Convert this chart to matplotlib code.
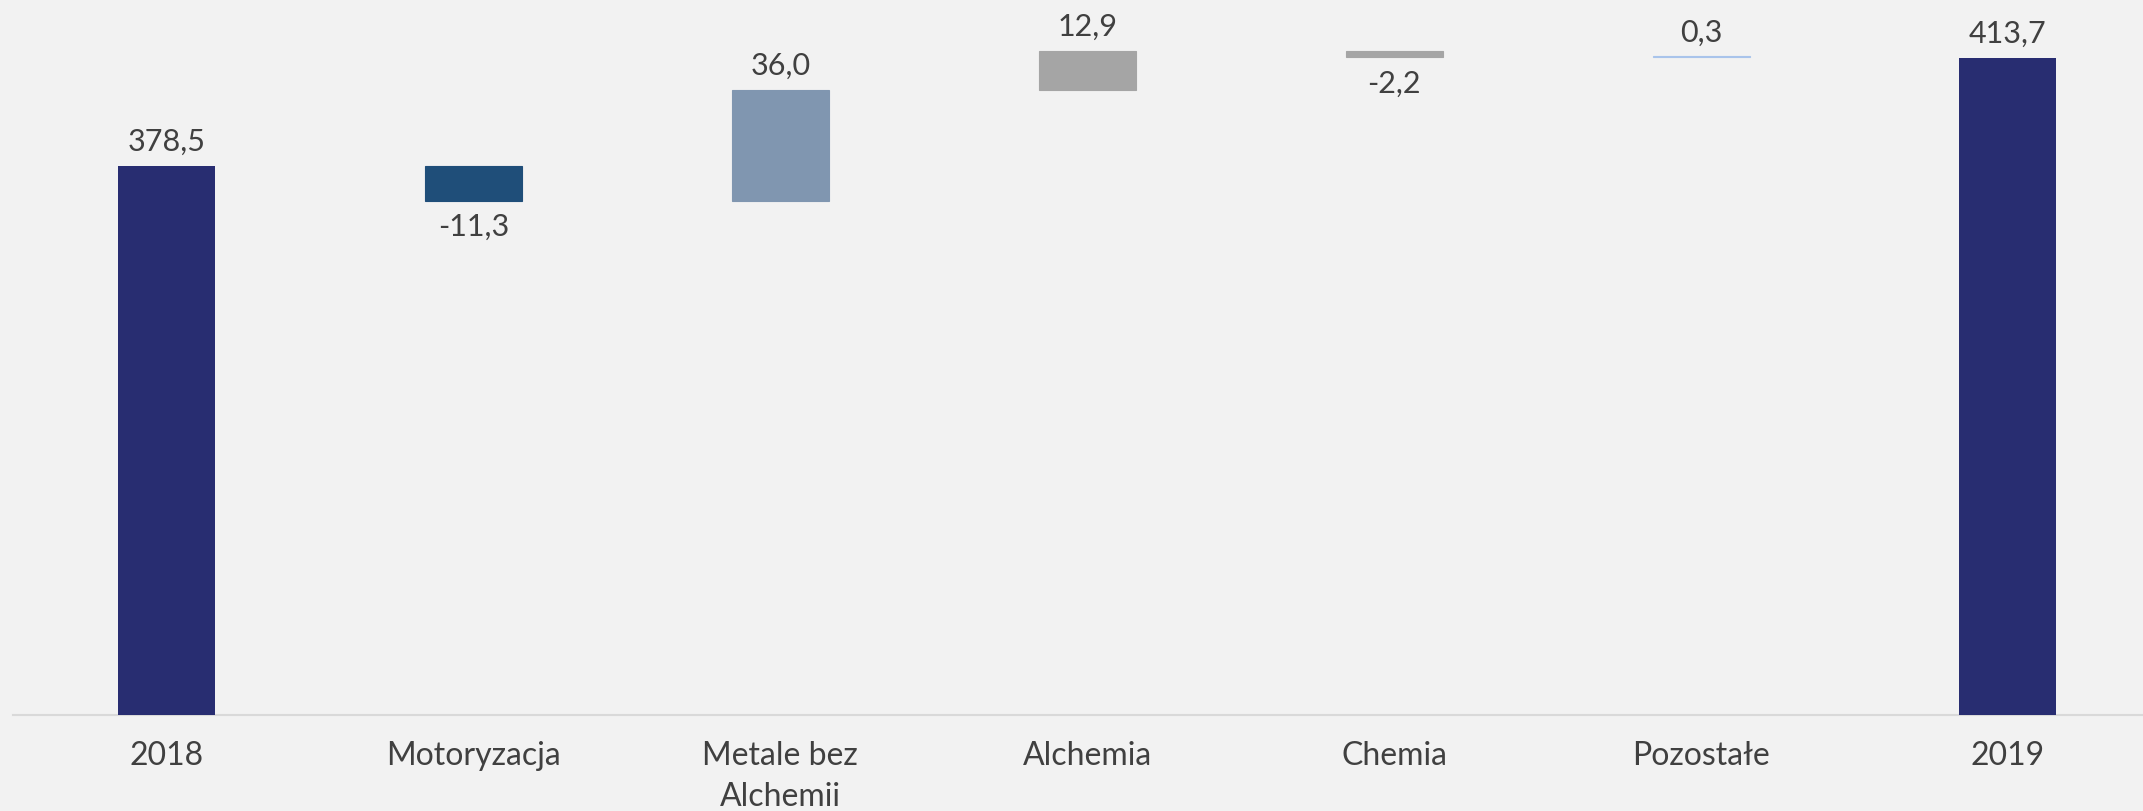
import numpy as np
import matplotlib
matplotlib.use('Agg')
import matplotlib.pyplot as plt

categories = ['2018', 'Motoryzacja', 'Metale bez\nAlchemii', 'Alchemia', 'Chemia', 'Pozostałe', '2019']
start_value = 378.5
deltas = [-11.3, 36.0, 12.9, -2.2, 0.3]
end_value = 413.7
labels = ['378,5', '-11,3', '36,0', '12,9', '-2,2', '0,3', '413,7']

total_color = '#282D71'
delta_colors = ['#1F4E79', '#8096B0', '#A5A5A5', '#A5A5A5', '#A9C4EB']
text_color = '#404040'

plt.rcParams['font.family'] = ['Lato', 'DejaVu Sans']

fig = plt.figure(figsize=(21.43, 8.12), dpi=100)
fig.patch.set_facecolor('#F2F2F2')
ax = fig.add_axes([13 / 2143, 96 / 812, 1 - 13 / 2143, 716 / 812])
ax.set_facecolor('none')

x = np.arange(len(categories))
w = 0.316
lab_kw = dict(textcoords='offset points', ha='center', fontsize=22, color=text_color)

# totals
ax.bar(x[0], start_value, width=w, color=total_color, zorder=3)
ax.bar(x[-1], end_value, width=w, color=total_color, zorder=3)
ax.annotate(labels[0], (x[0], start_value), xytext=(0, 8), va='bottom', **lab_kw)
ax.annotate(labels[-1], (x[-1], end_value), xytext=(0, 8), va='bottom', **lab_kw)

# deltas
cum = start_value
for i, d in enumerate(deltas):
    xi = x[i + 1]
    bottom = min(cum, cum + d)
    ax.bar(xi, abs(d), bottom=bottom, width=w, color=delta_colors[i],
           edgecolor=delta_colors[i], linewidth=0.8, zorder=3)
    if d >= 0:
        ax.annotate(labels[i + 1], (xi, cum + d), xytext=(0, 8), va='bottom', **lab_kw)
    else:
        ax.annotate(labels[i + 1], (xi, cum + d), xytext=(0, -8), va='top', **lab_kw)
    cum += d

ax.set_ylim(200, 432.9)
ax.set_xlim(-0.5, 6.44)
ax.set_xticks(x)
ax.set_xticklabels(categories, fontsize=23, color=text_color, linespacing=1.45)
ax.tick_params(axis='x', length=0, pad=18)
ax.set_yticks([])
for s in ['top', 'right', 'left']:
    ax.spines[s].set_visible(False)
ax.spines['bottom'].set_color('#D9D9D9')
ax.spines['bottom'].set_linewidth(1.5)

fig.savefig('out.png', dpi=100, facecolor=fig.get_facecolor())
